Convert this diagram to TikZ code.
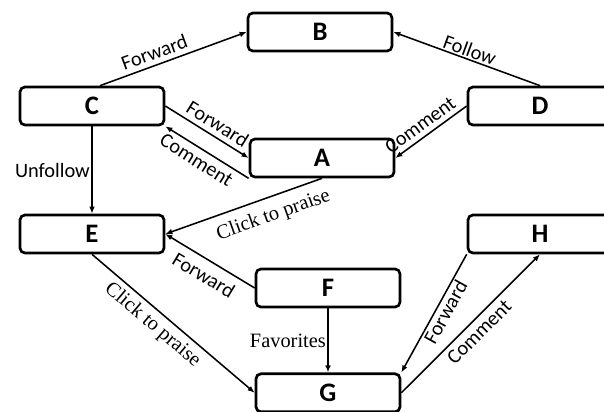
\documentclass[tikz,border=0pt]{standalone}
\usepackage{fontspec}
\setmainfont{Carlito}
\newfontfamily\serifface{Liberation Serif}
\usetikzlibrary{arrows.meta}

\begin{document}
\begin{tikzpicture}[
	box/.style={draw, line width=1.9pt, rounded corners=3.5pt, minimum width=3.6cm, minimum height=0.95cm, font=\fontsize{19}{22}\selectfont\bfseries},
	lbl/.style={font=\fontsize{14.5}{17}\selectfont},
	slbl/.style={font=\serifface\fontsize{14.5}{17}\selectfont},
	>={Latex[length=5pt,width=4pt]}
]

\useasboundingbox (0,0) rectangle (15.1,-10.275);
\clip (0,0) rectangle (15.1,-10.275);

\foreach \lab/\x/\y in {B/8.0/-0.8, C/2.3/-2.65, D/13.5/-2.65, A/8.05/-3.95, E/2.3/-5.85, F/8.2/-7.2, H/13.5/-5.85, G/8.2/-9.82}
{
	\node[box] (\lab) at (\x,\y) {\lab};
}

% upper part
\draw[->,line width=1.1pt] ([xshift=0.2cm]C.north) -- (B.west) node[lbl, sloped, pos=0.4, above] {Forward};
\draw[->,line width=1.1pt] (D.north) -- (B.east) node[lbl, sloped, midway, above, inner sep=1pt] {Follow};
\draw[->,line width=1.1pt] (C.east) -- (A.west) node[lbl, sloped, pos=0.55, above] {Forward};
\draw[->,line width=1.1pt] (A.south west) -- (C.south east) node[lbl, sloped, pos=0.55, below] {Comment};
\draw[->,line width=1.1pt] (D.west) -- (A.east) node[lbl, sloped, pos=0.55, above] {Comment};
\draw[->,line width=1.1pt] (C.south) -- (E.north) node[lbl, midway, left, inner sep=1pt] {Unfollow};

% lower part
\draw[->,line width=1.1pt] (A.south) -- (E.east) node[slbl, sloped, pos=0.35, below=3pt] {Click to praise};
\draw[->,line width=1.1pt] (F.west) -- (E.east) node[lbl, sloped, pos=0.48, below=2pt] {Forward};
\draw[->,line width=1.1pt] (E.south) -- (G.west) node[slbl, sloped, pos=0.43, below] {Click to praise};
\draw[->,line width=1.1pt] (F.south) -- (G.north) node[slbl, midway, left, inner sep=1pt] {Favorites};
\draw[->,line width=1.1pt] (H.south west) -- (G.north east) node[lbl, sloped, pos=0.45, below, inner sep=1pt] {Forward};
\draw[->,line width=1.1pt] (G.east) -- (H.south) node[lbl, sloped, midway, below] {Comment};

\end{tikzpicture}
\end{document}
